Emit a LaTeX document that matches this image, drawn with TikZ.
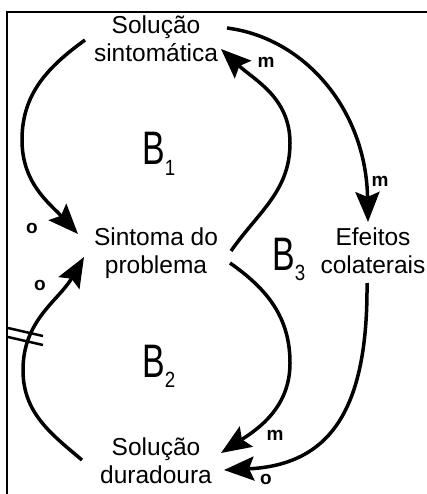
\documentclass[tikz,border=0pt]{standalone}
\usepackage{fontspec}
\usepackage{graphicx}
\setmainfont{Liberation Sans}
\usetikzlibrary{arrows.meta}
\newcommand\loopB[1]{\scalebox{0.72}[1]{\fontsize{47}{47}\selectfont B}\raisebox{-10pt}{\scalebox{0.85}[1]{\fontsize{22}{22}\selectfont #1}}}
\begin{document}
\begin{tikzpicture}[x=1pt,y=1pt,
  conn/.style={line width=3.5pt, -{Stealth[length=30pt,width=24pt,inset=5pt]}},
  plain/.style={line width=2.5pt},
  lbl/.style={align=center, font=\fontsize{24.5}{28}\selectfont, inner sep=0pt},
  pol/.style={font=\fontsize{19}{19}\selectfont\bfseries, inner sep=0pt},
  loopname/.style={inner sep=0pt, anchor=base west}]
\useasboundingbox (0,0) rectangle (427,-494);
\draw[plain] (7,-494) -- (7,-12) -- (427,-12);

% variables
\node[lbl, anchor=base] (ss) at (156,-62) {Solução\\sintomática};
\node[lbl, anchor=base] (sp) at (156,-273) {Sintoma do\\problema};
\node[lbl, anchor=base] (ec) at (373,-273) {Efeitos\\colaterais};
\node[lbl, anchor=base] (sd) at (156,-483) {Solução\\duradoura};

% loop names
\node[loopname] (b1) at (142,-165) {\loopB{1}};
\node[loopname] (b2) at (142,-377) {\loopB{2}};
\node[loopname] (b3) at (272,-270) {\loopB{3}};

% polarities
\node[pol] (o1) at (32,-228) {o};
\node[pol] (m1) at (266,-62) {m};
\node[pol] (m2) at (380,-181) {m};
\node[pol] (o2) at (40,-285) {o};
\node[pol] (m3) at (275,-435) {m};
\node[pol] (o3) at (266,-479) {o};

% connector end points
\coordinate (ssL) at (85,-40);
\coordinate (spL) at (78,-234);
\coordinate (spR) at (231,-251);
\coordinate (ssR) at (221,-49);
\coordinate (ssE) at (227,-28);
\coordinate (ecT) at (368,-222);
\coordinate (spD) at (230,-263);
\coordinate (sdR) at (221,-453);
\coordinate (ecB) at (367,-283);
\coordinate (sdE) at (224,-470);
\coordinate (sdL) at (82,-460);
\coordinate (spB) at (84,-257);

\draw[conn] (ssL) to[out=216,in=90] (22,-140) to[out=-90,in=133] (spL);
\draw[conn] (spR) to[out=55,in=-90] (290,-143) to[out=90,in=-43] (ssR);
\draw[conn] (ssE) .. controls (305,-38) and (366,-110) .. (ecT);
\draw[conn] (spD) to[out=-35,in=90] (290,-363) to[out=-90,in=33] (sdR);
\draw[conn] (ecB) .. controls (368,-410) and (330,-465) .. (sdE);
\draw[conn] (sdL) to[out=140,in=-90] (23,-370) to[out=90,in=240] (spB);

% delay mark
\draw[plain] (8,-328) -- (43,-336);
\draw[plain] (8,-337) -- (43,-345);
\end{tikzpicture}
\end{document}
